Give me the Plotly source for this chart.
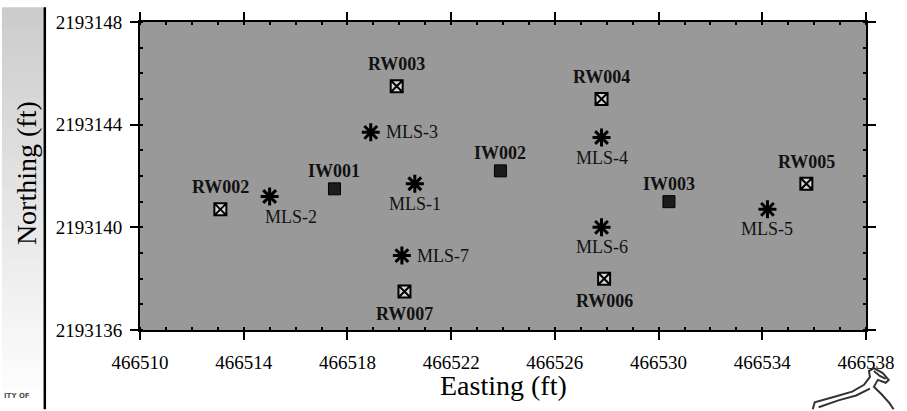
import plotly.graph_objects as go

# ---------------- data ----------------
rw_names = ["RW002", "RW003", "RW004", "RW005", "RW006", "RW007"]
rw_x = [466513.1, 466519.9, 466527.8, 466535.7, 466527.9, 466520.2]
rw_y = [2193140.7, 2193145.5, 2193145.0, 2193141.7, 2193138.0, 2193137.5]

iw_names = ["IW001", "IW002", "IW003"]
iw_x = [466517.5, 466523.9, 466530.4]
iw_y = [2193141.5, 2193142.2, 2193141.0]

mls_names = ["MLS-1", "MLS-2", "MLS-3", "MLS-4", "MLS-5", "MLS-6", "MLS-7"]
mls_x = [466520.6, 466515.0, 466518.9, 466527.8, 466534.2, 466527.8, 466520.1]
mls_y = [2193141.7, 2193141.2, 2193143.7, 2193143.5, 2193140.7, 2193140.0, 2193138.9]

x_range = [466510, 466538]
y_range = [2193136, 2193148]

# label placement (style)
placement = {
    "RW002": "above", "RW003": "above", "RW004": "above", "RW005": "above",
    "RW006": "below", "RW007": "below",
    "IW001": "above", "IW002": "above", "IW003": "above",
    "MLS-1": "below", "MLS-2": "belowright", "MLS-3": "right", "MLS-4": "below",
    "MLS-5": "below", "MLS-6": "below", "MLS-7": "right",
}

FONT = "Liberation Serif"
W, H = 907, 411
L, R, T, B = 140, 31, 15, 81
PW, PH = W - L - R, H - T - B


def px(x):
    return (x - L) / PW


def py(y):
    return (H - B - y) / PH


fig = go.Figure()

fig.add_trace(go.Scatter(
    x=rw_x, y=rw_y, mode="markers", hoverinfo="text", text=rw_names,
    marker=dict(symbol="square-x", size=12, color="#d6d6d6",
                line=dict(color="black", width=2)),
    showlegend=False))
fig.add_trace(go.Scatter(
    x=iw_x, y=iw_y, mode="markers", hoverinfo="text", text=iw_names,
    marker=dict(symbol="square", size=12, color="#1c1c1c",
                line=dict(color="black", width=1)),
    showlegend=False))
fig.add_trace(go.Scatter(
    x=mls_x, y=mls_y, mode="markers", hoverinfo="text", text=mls_names,
    marker=dict(symbol="asterisk-open", size=15, color="black",
                line=dict(color="black", width=3)),
    showlegend=False))

annotations = []


def add_labels(names, xs, ys, bold, up_shift, down_shift):
    for n, x, y in zip(names, xs, ys):
        p = placement[n]
        a = dict(x=x, y=y, xref="x", yref="y", showarrow=False,
                 text=(f"<b>{n}</b>" if bold else n),
                 font=dict(family=FONT, size=18, color="#111111"),
                 yanchor="middle")
        if p == "above":
            a.update(xanchor="center", yshift=up_shift)
        elif p == "below":
            a.update(xanchor="center", yshift=-down_shift)
        elif p == "right":
            a.update(xanchor="left", xshift=13)
        elif p == "belowright":
            a.update(xanchor="left", xshift=-7, yshift=-down_shift)
        annotations.append(a)


add_labels(rw_names, rw_x, rw_y, True, 22, 22)
add_labels(iw_names, iw_x, iw_y, True, 18, 20)
add_labels(mls_names, mls_x, mls_y, False, 20, 20)

# axis titles
annotations.append(dict(text="Easting (ft)", x=0.5, y=py(387), xref="paper", yref="paper",
                        showarrow=False, xanchor="center", yanchor="middle",
                        font=dict(family=FONT, size=28, color="black")))
annotations.append(dict(text="Northing (ft)", x=px(25), y=py(170), xref="paper", yref="paper",
                        showarrow=False, xanchor="center", yanchor="middle", textangle=-90,
                        font=dict(family=FONT, size=28, color="black")))
annotations.append(dict(text="<b>ITY OF</b>", x=px(0), y=py(398), xref="paper", yref="paper",
                        showarrow=False, xanchor="left", yanchor="middle",
                        font=dict(family="DejaVu Sans", size=7, color="#555555")))

shapes = []
# gradient band on the left
n = 40
for i in range(n):
    t = i / (n - 1)
    c = int(round(204 + (255 - 204) * t))
    shapes.append(dict(type="rect", xref="paper", yref="paper",
                       x0=px(0), x1=px(42.5), y0=py(H * (i + 1) / n + 1), y1=py(H * i / n),
                       fillcolor=f"rgb({c},{c},{c})", line=dict(width=0), layer="below"))
shapes.append(dict(type="line", xref="paper", yref="paper",
                   x0=px(43.5), x1=px(43.5), y0=py(0), y1=py(H),
                   line=dict(color="black", width=2.5)))


# rough logo sketch (bottom right)
def path(pts):
    s = "M " + " L ".join(f"{px(a):.5f},{py(b):.5f}" for a, b in pts)
    return s


logo1 = [(822, 411), (824, 404), (845, 398), (862, 393), (874, 386), (880, 378),
         (879, 372), (884, 369), (893, 374), (899, 381), (896, 384), (888, 381),
         (884, 388), (892, 396), (900, 405), (904, 411)]
logo2 = [(828, 409), (848, 402), (866, 397), (880, 390)]
logo3 = [(884, 372), (890, 377), (896, 380)]
for pts in (logo1, logo2, logo3):
    shapes.append(dict(type="path", xref="paper", yref="paper", path=path(pts),
                       line=dict(color="#333333", width=2)))

axis_common = dict(
    showline=True, linecolor="black", linewidth=2, mirror="allticks",
    ticks="outside", ticklen=8, tickwidth=2, tickcolor="black",
    showgrid=False, zeroline=False, tickformat="d",
    tickfont=dict(family=FONT, size=19, color="black"),
    minor=dict(ticks="inside", ticklen=3, tickwidth=2, tickcolor="black", dtick=1, showgrid=False),
)

fig.update_layout(
    width=W, height=H,
    font=dict(family=FONT, color="black"),
    margin=dict(l=L, r=R, t=T, b=B),
    paper_bgcolor="white", plot_bgcolor="#999999",
    xaxis=dict(range=x_range, dtick=4, tick0=466510, ticklabelstandoff=6, **axis_common),
    yaxis=dict(range=y_range, dtick=4, tick0=2193136, ticklabelstandoff=4, **axis_common),
    annotations=annotations, shapes=shapes,
)

fig.write_html("out.html")
